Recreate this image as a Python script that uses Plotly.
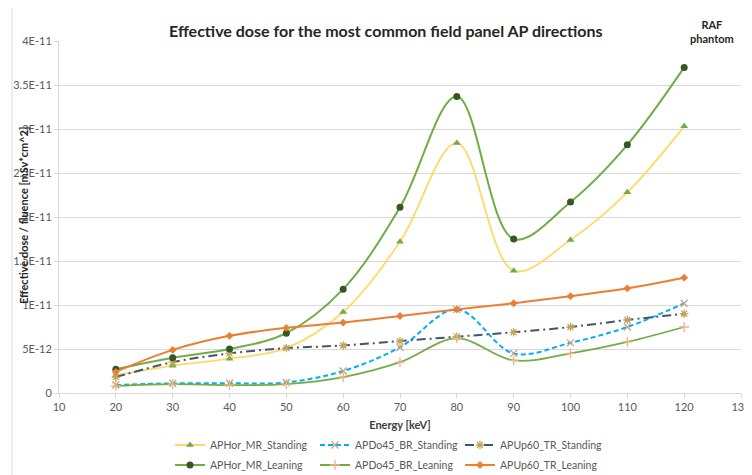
import plotly.graph_objects as go

energy = [20, 30, 40, 50, 60, 70, 80, 90, 100, 110, 120]

aphor_mr_standing = [2.0e-12, 3.1e-12, 3.9e-12, 5.1e-12, 9.2e-12, 17.2e-12, 28.4e-12, 13.9e-12, 17.4e-12, 22.8e-12, 30.3e-12]
apdo45_br_standing = [0.9e-12, 1.1e-12, 1.1e-12, 1.2e-12, 2.5e-12, 5.2e-12, 9.5e-12, 4.5e-12, 5.7e-12, 7.5e-12, 10.2e-12]
apup60_tr_standing = [1.8e-12, 3.5e-12, 4.5e-12, 5.1e-12, 5.4e-12, 5.9e-12, 6.4e-12, 6.9e-12, 7.5e-12, 8.3e-12, 9.0e-12]
aphor_mr_leaning = [2.7e-12, 4.0e-12, 5.0e-12, 6.8e-12, 11.8e-12, 21.1e-12, 33.7e-12, 17.5e-12, 21.7e-12, 28.2e-12, 37.0e-12]
apdo45_br_leaning = [0.8e-12, 1.0e-12, 0.9e-12, 1.0e-12, 1.8e-12, 3.5e-12, 6.2e-12, 3.7e-12, 4.5e-12, 5.8e-12, 7.5e-12]
apup60_tr_leaning = [2.4e-12, 4.9e-12, 6.5e-12, 7.4e-12, 8.0e-12, 8.75e-12, 9.5e-12, 10.2e-12, 11.0e-12, 11.9e-12, 13.1e-12]

y_tickvals = [0, 5e-12, 1e-11, 1.5e-11, 2e-11, 2.5e-11, 3e-11, 3.5e-11, 4e-11]
y_ticktext = ["0", "5E-12", "1E-11", "1.5E-11", "2E-11", "2.5E-11", "3E-11", "3.5E-11", "4E-11"]
x_tickvals = [10, 20, 30, 40, 50, 60, 70, 80, 90, 100, 110, 120, 130]

FONT = "Lato, Liberation Sans, sans-serif"

series = [
    ("APHor_MR_Standing", aphor_mr_standing, dict(color="#FFD966", width=1.8, dash="solid"),
     dict(symbol="triangle-up", size=7, color="#70AD47"), "legend"),
    ("APDo45_BR_Standing", apdo45_br_standing, dict(color="#00B0F0", width=2, dash="5px,3px"),
     dict(symbol="x-thin-open", size=7, color="#C9A27E", line=dict(width=1.3, color="#C9A27E")), "legend"),
    ("APUp60_TR_Standing", apup60_tr_standing, dict(color="#44546A", width=2, dash="9px,4px,2px,4px"),
     dict(symbol="asterisk-open", size=7, color="#C3A65E", line=dict(width=1.3, color="#C3A65E")), "legend"),
    ("APHor_MR_Leaning", aphor_mr_leaning, dict(color="#70AD47", width=2, dash="solid"),
     dict(symbol="circle", size=7, color="#375623"), "legend2"),
    ("APDo45_BR_Leaning", apdo45_br_leaning, dict(color="#70AD47", width=1.8, dash="solid"),
     dict(symbol="cross-thin-open", size=7, color="#F4B183", line=dict(width=1.3, color="#F4B183")), "legend2"),
    ("APUp60_TR_Leaning", apup60_tr_leaning, dict(color="#ED7D31", width=2, dash="solid"),
     dict(symbol="diamond", size=6, color="#ED7D31"), "legend2"),
]

fig = go.Figure()
for name, vals, line, marker, leg in series:
    line = dict(line)
    line["shape"] = "spline"
    line["smoothing"] = 1.0
    fig.add_trace(go.Scatter(x=energy, y=vals, name=name, mode="lines+markers",
                             line=line, marker=marker, legend=leg))

# The page body has an 8px margin, so the figure starts at (8, 8) in the window.
OFF = 8
W, H = 752 - OFF, 475 - OFF
# plot area in window pixels: 59..741 x, 41..393 y
L, R, T, B = 59, 741, 41, 393
def px(x):
    return (x - L) / (R - L)
def py(y):
    return (B - y) / (B - T)

legend_common = dict(orientation="h", font=dict(family=FONT, size=10.5, color="#595959"),
                     entrywidth=100, entrywidthmode="pixels", xanchor="left", yanchor="middle",
                     bgcolor="rgba(0,0,0,0)", tracegroupgap=0, itemwidth=30)

fig.update_layout(
    width=W, height=H,
    margin=dict(l=L - OFF, r=752 - R, t=T - OFF, b=475 - B, autoexpand=False),
    paper_bgcolor="white", plot_bgcolor="white",
    font=dict(family=FONT, color="#595959"),
    showlegend=True,
    legend=dict(legend_common, x=px(170), y=py(445)),
    legend2=dict(legend_common, x=px(170), y=py(465)),
    xaxis=dict(range=[10, 130], tickvals=x_tickvals, showgrid=False, zeroline=False,
               showline=True, linecolor="#D9D9D9", linewidth=1,
               ticks="outside", ticklen=4, tickcolor="#D9D9D9",
               ticklabeloverflow="allow",
               tickfont=dict(family=FONT, size=11, color="#595959"),
               title=dict(text="<b>Energy [keV]</b>", font=dict(family=FONT, size=11, color="#404040"), standoff=9)),
    yaxis=dict(range=[0, 4e-11], tickvals=y_tickvals, ticktext=y_ticktext, showgrid=True,
               gridcolor="#D9D9D9", gridwidth=1, zeroline=False,
               showline=True, linecolor="#D9D9D9", linewidth=1,
               ticks="outside", ticklen=4, tickcolor="#D9D9D9",
               tickfont=dict(family=FONT, size=11, color="#595959")),
    annotations=[
        dict(text="<b>Effective dose for the most common field panel AP directions</b>",
             x=px(386), y=py(30), xref="paper", yref="paper", showarrow=False,
             xanchor="center", yanchor="middle", font=dict(family=FONT, size=16, color="#262626")),
        dict(text="<b>RAF<br>phantom</b>", x=px(712), y=py(31), xref="paper", yref="paper",
             showarrow=False, xanchor="center", yanchor="middle",
             font=dict(family=FONT, size=11, color="#262626")),
        dict(text="<b>Effective dose / fluence [mSv*cm^2]</b>", x=px(23), y=py(216),
             xref="paper", yref="paper", showarrow=False, textangle=-90,
             xanchor="center", yanchor="middle", font=dict(family=FONT, size=11, color="#262626")),
    ],
    shapes=[
        dict(type="line", xref="paper", yref="paper", x0=px(12), x1=px(12), y0=py(475), y1=py(OFF),
             line=dict(color="#D9D9D9", width=1)),
    ],
)

fig.write_html("out.html")
